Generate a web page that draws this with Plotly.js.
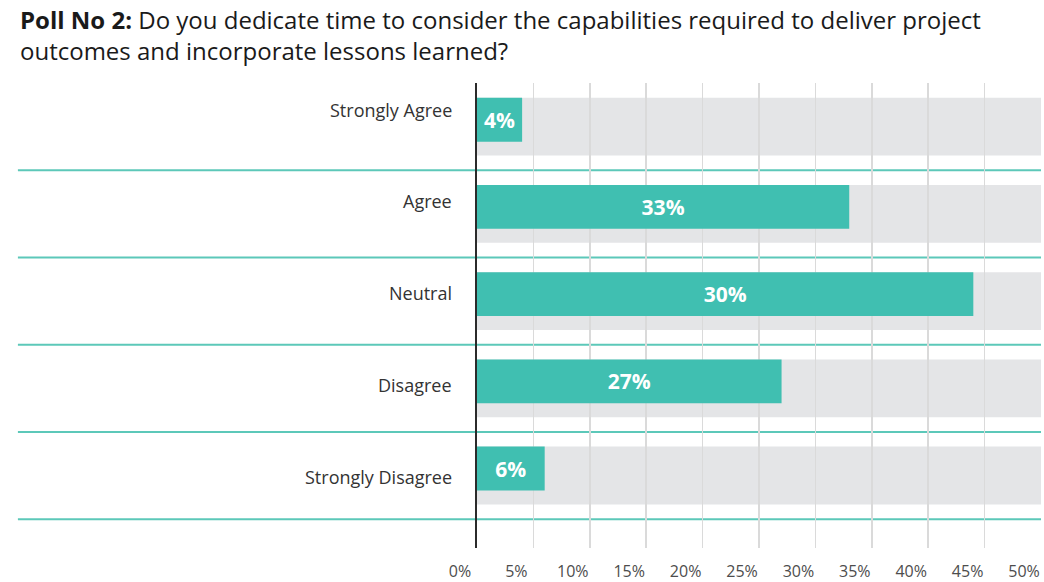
<!DOCTYPE html>
<html>
<head>
<meta charset="utf-8">
<script src="https://cdn.plot.ly/plotly-3.0.1.min.js"></script>
<style>html,body{margin:0;padding:0;background:#fff;}#chart{width:1044px;height:582px;}</style>
</head>
<body>
<div id="chart"></div>
<script>
// Data
const categories = ["Strongly Agree", "Agree", "Neutral", "Disagree", "Strongly Disagree"];
const barValues = [4, 33, 44, 27, 6];            // bar lengths as drawn (%)
const barLabels = ["4%", "33%", "30%", "27%", "6%"]; // labels printed on bars
const fullScale = 50;                              // background track (%)
const tickValues = [0, 5, 10, 15, 20, 25, 30, 35, 40, 45, 50];

const teal = "#40bfb1";
const track = "#e4e5e7";
const idx = categories.map((_, i) => i);

const shapes = [];
idx.forEach(i => {
  shapes.push({
    type: "rect", xref: "x", yref: "y", layer: "below",
    x0: 0, x1: fullScale, y0: i - 0.332, y1: i + 0.332,
    fillcolor: track, line: {width: 0}
  });
  shapes.push({
    type: "line", xref: "paper", yref: "y", layer: "between",
    x0: -0.814, x1: 1, y0: i + 0.5, y1: i + 0.5,
    line: {color: "#5cc8b9", width: 2}
  });
});

const annotations = idx.map(i => ({
  xref: "paper", yref: "y", x: 0, y: i,
  xanchor: "right", yanchor: "middle", xshift: -23, yshift: 17 - 4.5 * i,
  text: categories[i], showarrow: false,
  font: {family: "Open Sans", size: 18, color: "#333333"}
}));

annotations.push({
  xref: "paper", yref: "paper",
  x: (18 - 477) / 564, y: 1 + 83 / 465, yshift: -1,
  xanchor: "left", yanchor: "top", align: "left", showarrow: false,
  text: "<b>Poll No 2:</b> Do you dedicate time to consider the capabilities required to deliver project<br>outcomes and incorporate lessons learned?",
  font: {family: "Open Sans", size: 24, color: "#1a1a1a"}
});

const trace = {
  type: "bar", orientation: "h",
  x: barValues, y: idx,
  width: 0.504, offset: -0.332,
  marker: {color: teal, line: {width: 0}},
  text: barLabels, textposition: "inside", insidetextanchor: "middle",
  constraintext: "none",
  textfont: {family: "Open Sans", size: 21, color: "#ffffff", weight: "bold"},
  hoverinfo: "skip", cliponaxis: false
};

const layout = {
  width: 1044, height: 582,
  margin: {l: 477, r: 3, t: 83, b: 34},
  paper_bgcolor: "#ffffff", plot_bgcolor: "#ffffff",
  showlegend: false,
  xaxis: {
    range: [0, fullScale], tickvals: tickValues, ticktext: tickValues.map(v => v + "%"),
    showgrid: true, gridcolor: "#dadada", gridwidth: 1.5,
    zeroline: false, showline: false, ticks: "",
    ticklabelshift: -17, ticklabelstandoff: 12,
    tickfont: {family: "Open Sans", size: 16, color: "#4d4d4d"},
    fixedrange: true
  },
  yaxis: {
    range: [4.83, -0.5], showgrid: false, zeroline: false,
    showticklabels: false, ticks: "",
    showline: true, linecolor: "#2b2b2b", linewidth: 2.5,
    fixedrange: true
  },
  shapes: shapes,
  annotations: annotations
};

Plotly.newPlot("chart", [trace], layout, {displayModeBar: false, staticPlot: true});
</script>
</body>
</html>
